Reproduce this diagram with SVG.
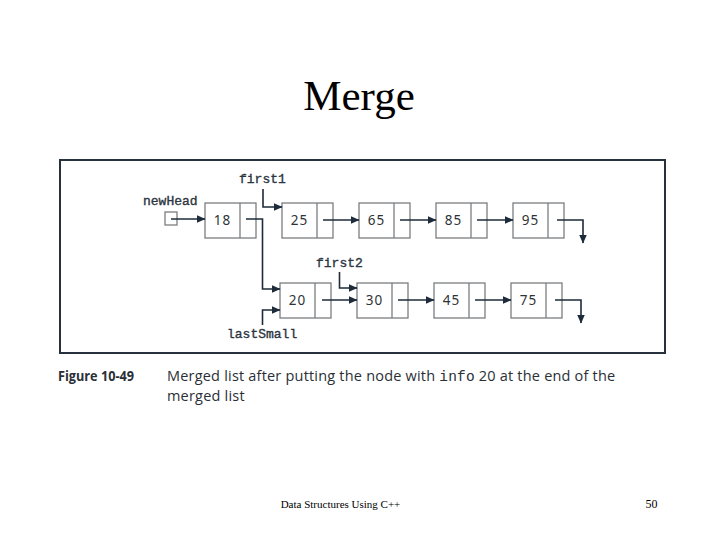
<svg xmlns="http://www.w3.org/2000/svg" width="720" height="540" viewBox="0 0 720 540">
<style>
.node rect{fill:#fff;stroke:#7a7d80;stroke-width:1.3}
.node line{stroke:#7a7d80;stroke-width:1.3}
.num{font-family:"Noto Sans","Open Sans",sans-serif;font-size:13.5px;fill:#2f3338;text-anchor:middle;letter-spacing:1px}
.ptr{font-family:"Liberation Mono","Courier New",monospace;font-size:13px;fill:#2b3440;stroke:#2b3440;stroke-width:0.35}
.con path{fill:none;stroke:#1e2b3a;stroke-width:1.6}
.cap{font-family:"Open Sans","Noto Sans",sans-serif;font-size:14.5px;fill:#2a2f36}
</style>
<defs>
<marker id="ah" markerWidth="9" markerHeight="8" refX="8.5" refY="4" orient="auto" markerUnits="userSpaceOnUse">
<path d="M0,0 L9,4 L0,8 Z" fill="#1e2b3a"/>
</marker>
</defs>
<rect width="720" height="540" fill="#fff"/>
<text x="359" y="110" font-family="Liberation Serif,Times New Roman,serif" font-size="43" text-anchor="middle" fill="#000">Merge</text>
<rect x="60" y="160" width="605" height="193" fill="#fff" stroke="#27313d" stroke-width="2"/>

<g id="newHead">
<rect x="165" y="212" width="12" height="13" fill="#fff" stroke="#7a7d80" stroke-width="1.3"/>
<text class="ptr" x="143" y="205">newHead</text>
</g>
<g id="first1"><text class="ptr" x="239" y="183">first1</text></g>
<g id="first2"><text class="ptr" x="316" y="267">first2</text></g>
<g id="lastSmall"><text class="ptr" x="227" y="338">lastSmall</text></g>

<g id="n18" class="node"><rect x="205" y="203" width="51" height="35"/><line x1="240" y1="203" x2="240" y2="238"/><text class="num" x="222.5" y="225">18</text></g>
<g id="n25" class="node"><rect x="282" y="203" width="51" height="35"/><line x1="317" y1="203" x2="317" y2="238"/><text class="num" x="299.5" y="225">25</text></g>
<g id="n65" class="node"><rect x="359" y="203" width="51" height="35"/><line x1="394" y1="203" x2="394" y2="238"/><text class="num" x="376.5" y="225">65</text></g>
<g id="n85" class="node"><rect x="436" y="203" width="51" height="35"/><line x1="471" y1="203" x2="471" y2="238"/><text class="num" x="453.5" y="225">85</text></g>
<g id="n95" class="node"><rect x="513" y="203" width="51" height="35"/><line x1="548" y1="203" x2="548" y2="238"/><text class="num" x="530.5" y="225">95</text></g>

<g id="n20" class="node"><rect x="280" y="283" width="51" height="35"/><line x1="315" y1="283" x2="315" y2="318"/><text class="num" x="297.5" y="305">20</text></g>
<g id="n30" class="node"><rect x="357" y="283" width="51" height="35"/><line x1="392" y1="283" x2="392" y2="318"/><text class="num" x="374.5" y="305">30</text></g>
<g id="n45" class="node"><rect x="434" y="283" width="51" height="35"/><line x1="469" y1="283" x2="469" y2="318"/><text class="num" x="451.5" y="305">45</text></g>
<g id="n75" class="node"><rect x="511" y="283" width="51" height="35"/><line x1="546" y1="283" x2="546" y2="318"/><text class="num" x="528.5" y="305">75</text></g>

<g id="connectors" class="con">
<path d="M171,219 H205" marker-end="url(#ah)"/>
<path d="M263,189 V207 H282" marker-end="url(#ah)"/>
<path d="M246,219 H262.5 V289 H280" marker-end="url(#ah)"/>
<path d="M262.5,325 V310 H280" marker-end="url(#ah)"/>
<path d="M339.5,272 V288 H357" marker-end="url(#ah)"/>
<path d="M322,300 H357" marker-end="url(#ah)"/>
<path d="M323,220 H359" marker-end="url(#ah)"/>
<path d="M400,220 H436" marker-end="url(#ah)"/>
<path d="M477,220 H513" marker-end="url(#ah)"/>
<path d="M557,220 H583 V243" marker-end="url(#ah)"/>
<path d="M398,300 H434" marker-end="url(#ah)"/>
<path d="M475,300 H511" marker-end="url(#ah)"/>
<path d="M555,300 H581 V323" marker-end="url(#ah)"/>
</g>

<g id="caption">
<text class="cap" x="58" y="381" font-weight="bold" font-size="14" textLength="76" lengthAdjust="spacingAndGlyphs">Figure 10-49</text>
<text class="cap" x="167" y="381" letter-spacing="0.2">Merged list after putting the node with <tspan font-family="Liberation Mono,monospace">info</tspan> 20 at the end of the</text>
<text class="cap" x="167" y="401" letter-spacing="0.2">merged list</text>
</g>
<text x="340.5" y="508" font-family="Liberation Serif,Times New Roman,serif" font-size="11" text-anchor="middle" fill="#000">Data Structures Using C++</text>
<text x="651.5" y="508" font-family="Liberation Serif,Times New Roman,serif" font-size="12" text-anchor="middle" fill="#000">50</text>
</svg>
